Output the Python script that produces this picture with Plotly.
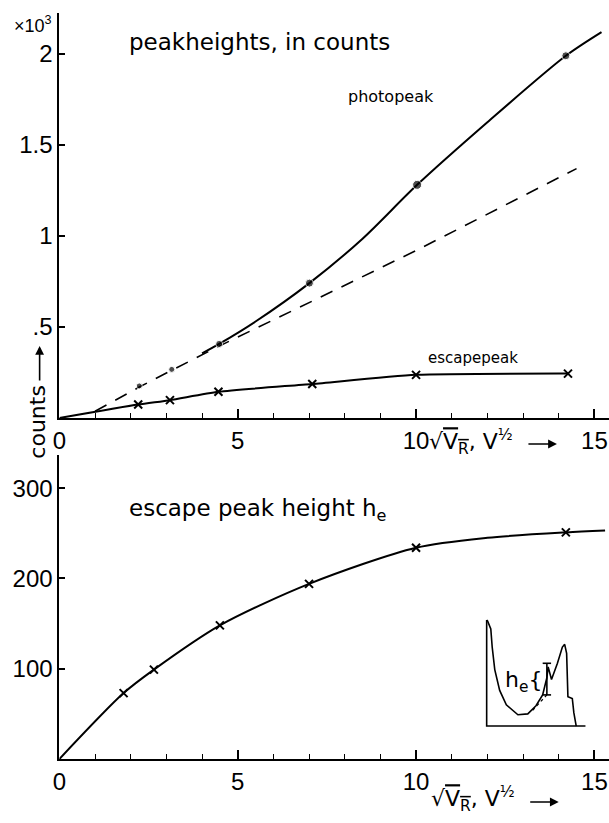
import plotly.graph_objects as go

# ---------------- data ----------------
# top panel: peak heights (counts)
photo_dot_x = [2.24, 3.15, 4.48, 7.01, 10.03, 14.2]
photo_dot_y = [176, 267, 407, 741, 1281, 1990]
photo_dot_size = [6, 6, 7, 8, 9, 8]

photo_curve_x = [4.0, 4.48, 5.5, 7.01, 8.5, 10.03, 12.0, 14.2, 15.2]
photo_curve_y = [355, 407, 530, 741, 985, 1281, 1625, 1990, 2120]

linear_x = [1.0, 2.24, 3.15, 4.48, 7.7, 10.0, 14.5]
linear_y = [37, 170, 262, 395, 700, 920, 1370]

esc_top_x = [0, 2.21, 3.1, 4.46, 7.09, 10.0, 14.26]
esc_top_y = [0, 74, 98, 144, 187, 237, 244]

# bottom panel: escape peak height h_e
esc_x = [1.8, 2.65, 4.5, 7.0, 10.0, 14.2]
esc_y = [73, 99, 148, 194, 234, 251]
esc_curve_x = [0, 1.8, 2.65, 4.5, 7.0, 10.0, 12.0, 14.2, 15.3]
esc_curve_y = [0, 73, 99, 148, 194, 234, 245, 251, 253]

# inset: schematic spectrum (in bottom-panel data units)
inset_x = [11.98, 12.005, 12.096, 12.135, 12.207, 12.345, 12.531, 12.856, 13.133,
           13.363, 13.549, 13.668, 13.704, 13.798, 13.964, 14.103, 14.167, 14.222,
           14.258, 14.381, 14.425, 14.491]
inset_y = [154, 153, 144, 124, 99, 76, 60, 49, 50, 59, 71, 90, 102, 88, 106, 124,
           127, 117, 69, 67, 51, 36.5]
inset_frame_x = [11.98, 11.98, 14.75]
inset_frame_y = [154, 36.5, 36.5]
inset_bg_x = [13.27, 13.668]
inset_bg_y = [54, 71]
inset_bar_x = [13.668, 13.668]
inset_bar_y = [71, 106]

top_yticks = [500, 1000, 1500, 2000]
top_ylabels = [".5", "1", "1.5", "2"]
bot_yticks = [100, 200, 300]
xticks = [0, 5, 10, 15]

FONT = "DejaVu Sans"
TICKFONT = "Liberation Sans"
W, H = 609, 823


def py(p):
    return (H - p) / H


fig = go.Figure()
blk = "black"

# top panel
fig.add_trace(go.Scatter(x=linear_x, y=linear_y, mode="lines",
                         line=dict(color=blk, width=1.6, dash="13px,10px"),
                         xaxis="x", yaxis="y"))
fig.add_trace(go.Scatter(x=photo_curve_x, y=photo_curve_y, mode="lines",
                         line=dict(color=blk, width=2, shape="spline", smoothing=0.8),
                         xaxis="x", yaxis="y"))
fig.add_trace(go.Scatter(x=photo_dot_x, y=photo_dot_y, mode="markers",
                         marker=dict(color=blk, size=photo_dot_size, symbol="circle"),
                         xaxis="x", yaxis="y"))
fig.add_trace(go.Scatter(x=esc_top_x, y=esc_top_y, mode="lines",
                         line=dict(color=blk, width=2, shape="spline", smoothing=0.6),
                         xaxis="x", yaxis="y"))
fig.add_trace(go.Scatter(x=esc_top_x[1:], y=esc_top_y[1:], mode="markers",
                         marker=dict(color=blk, size=8, symbol="x-thin",
                                     line=dict(color=blk, width=2)),
                         xaxis="x", yaxis="y"))

# bottom panel
fig.add_trace(go.Scatter(x=esc_curve_x, y=esc_curve_y, mode="lines",
                         line=dict(color=blk, width=2, shape="spline", smoothing=0.8),
                         xaxis="x2", yaxis="y2"))
fig.add_trace(go.Scatter(x=esc_x, y=esc_y, mode="markers",
                         marker=dict(color=blk, size=8, symbol="x-thin",
                                     line=dict(color=blk, width=2)),
                         xaxis="x2", yaxis="y2"))
# inset
fig.add_trace(go.Scatter(x=inset_frame_x, y=inset_frame_y, mode="lines",
                         line=dict(color=blk, width=1.6), xaxis="x2", yaxis="y2"))
fig.add_trace(go.Scatter(x=inset_x, y=inset_y, mode="lines",
                         line=dict(color=blk, width=1.6), xaxis="x2", yaxis="y2"))
fig.add_trace(go.Scatter(x=inset_bg_x, y=inset_bg_y, mode="lines",
                         line=dict(color=blk, width=1.2, dash="dot"), xaxis="x2", yaxis="y2"))
fig.add_trace(go.Scatter(x=inset_bar_x, y=inset_bar_y, mode="lines+markers",
                         line=dict(color=blk, width=1.6),
                         marker=dict(symbol="line-ew", size=6, line=dict(color=blk, width=1.6)),
                         xaxis="x2", yaxis="y2"))

xdom = [53 / W, 1.0]
axis_common = dict(showline=True, linecolor=blk, linewidth=2, showgrid=False,
                   zeroline=False, ticks="inside", tickcolor=blk, tickwidth=1.6,
                   ticklabeloverflow="allow",
                   tickfont=dict(family=TICKFONT, size=24, color=blk))

fig.update_layout(
    width=W, height=H,
    margin=dict(l=0, r=0, t=0, b=0),
    paper_bgcolor="white", plot_bgcolor="white",
    showlegend=False,
    xaxis=dict(domain=xdom, range=[0, 15.41], anchor="y", tickvals=xticks,
               ticklen=9, minor=dict(dtick=1, ticks="inside", ticklen=5,
                                     tickcolor=blk, tickwidth=1.4),
               **axis_common),
    yaxis=dict(domain=[py(418), py(13)], range=[0, 2225], anchor="x",
               tickvals=top_yticks, ticktext=top_ylabels, ticklen=6, **axis_common),
    xaxis2=dict(domain=xdom, range=[0, 15.41], anchor="y2", tickvals=xticks,
                ticklen=9, minor=dict(dtick=1, ticks="inside", ticklen=5,
                                      tickcolor=blk, tickwidth=1.4),
                **axis_common),
    yaxis2=dict(domain=[py(759), py(455)], range=[0, 336.7], anchor="x2",
                tickvals=bot_yticks, ticklen=6, **axis_common),
)

ann = []
def txt(text, x, y, xref, yref, size, xanchor="center", yanchor="middle", angle=0,
        family=FONT):
    ann.append(dict(text=text, x=x, y=y, xref=xref, yref=yref, showarrow=False,
                    xanchor=xanchor, yanchor=yanchor, textangle=angle,
                    font=dict(family=family, size=size, color=blk)))

def arrow(x, y, ax, ay, xref, yref):
    ann.append(dict(text="", x=x, y=y, ax=ax, ay=ay, xref=xref, yref=yref,
                    axref="pixel", ayref="pixel", showarrow=True, arrowhead=2,
                    arrowsize=1.1, arrowwidth=1.6, arrowcolor=blk))

txt("×10<sup>3</sup>", 26 / W, py(24), "paper", "paper", 18, family=TICKFONT)
txt("peakheights, in counts", 1.9, py(42), "x", "paper", 23, xanchor="left")
txt("photopeak", 9.3, 1765, "x", "y", 16)
txt("escapepeak", 11.6, 330, "x", "y", 15)
xlabel = "√<span style='text-decoration:overline'>V<sub>R</sub></span>, V<sup>½</sup>"
txt(xlabel, 10.3, py(442), "x", "paper", 22, xanchor="left")
arrow(13.95, py(444), -30, 0, "x", "paper")
txt("counts", 30 / W, py(422), "paper", "paper", 22, angle=-90)
arrow(33 / W, py(346), 0, 36, "paper", "paper")

txt("escape peak height h<sub>e</sub>", 1.9, 276, "x2", "y2", 23, xanchor="left")
txt("h<sub>e</sub>{", 13.58, 86, "x2", "y2", 22, xanchor="right")
txt(xlabel, 10.35, py(799), "x2", "paper", 22, xanchor="left")
arrow(14.0, py(802), -30, 0, "x2", "paper")

fig.update_layout(annotations=ann)
fig.write_html("out.html", config={"displayModeBar": False},
               post_script="document.body.style.margin='0';document.body.style.overflow='hidden';")
